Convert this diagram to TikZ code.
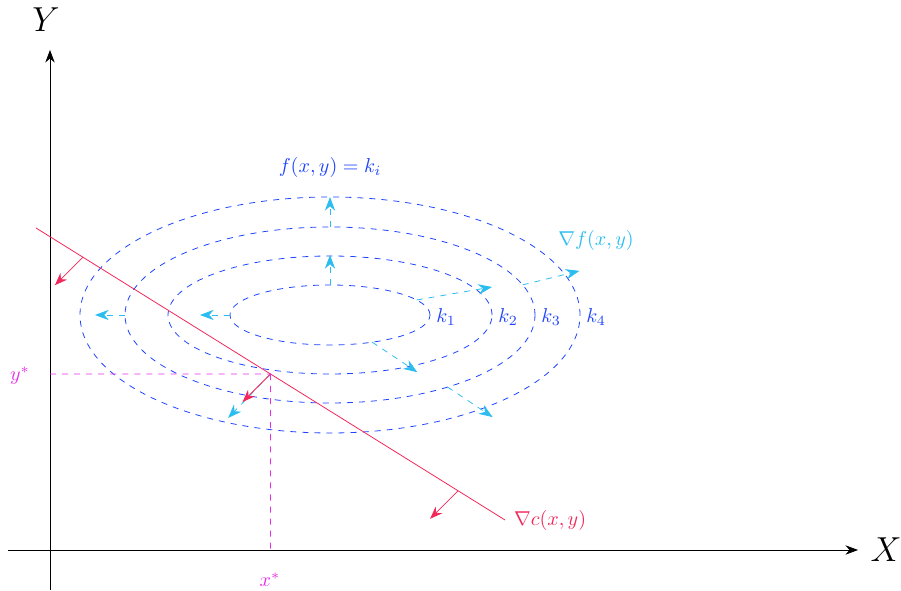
\documentclass[tikz,border=0pt]{standalone}
\usepackage{amsmath,amssymb}
\usepackage{tikz}
\usetikzlibrary{positioning,arrows.meta,calc}
\usepackage{xcolor}
\definecolor{levelc}{HTML}{1E44FF}
\definecolor{gradc}{HTML}{2BBDF0}
\definecolor{consc}{HTML}{F2285A}
\definecolor{optc}{HTML}{E62EE6}

\begin{document}
\begin{tikzpicture}[scale=0.7,
  level/.style={levelc, dashed},
  grad/.style={gradc, dashed, -{Stealth[length=2.4mm]}},
  cons/.style={consc},
  consarr/.style={consc, -{Stealth[length=2.2mm]}},
  opt/.style={optc, dashed},
  klab/.style={levelc, anchor=west, inner sep=2pt},
  >={Stealth[length=2.2mm]}
]
\useasboundingbox (-1.25,-1.025) rectangle (21.275,13.75);
% ---- axes ----
\coordinate (xa) at (-1.05,0);
\coordinate (xb) at (20.2,0);
\coordinate (ya) at (0,-1);
\coordinate (yb) at (0,12.5);
\draw[->] (xa) -- (xb);
\draw[->] (ya) -- (yb);
\node[font=\LARGE] (xl) at (20.9,0) {$X$};
\node[font=\LARGE] (yl) at (-0.1,13.25) {$Y$};
% ---- level sets f(x,y) = k_i ----
\coordinate (O) at (7,5.875);
\foreach \i/\a/\b in {1/2.5/0.75, 2/4.05/1.475, 3/5.125/2.2, 4/6.25/2.95}{
  \draw[level] (O) ellipse [x radius=\a, y radius=\b];
  \node[klab] (k\i) at ($(O)+(\a,0)+(0.05,-0.05)$) {$k_{\i}$};
}
\node[levelc] (fl) at (7,9.575) {$f(x,y)=k_i$};
% ---- gradient of f ----
\draw[grad] ($(O)+(180:2.5 and 0.75)$) -- ++(-0.75,0);
\draw[grad] ($(O)+(180:5.125 and 2.2)$) -- ++(-0.75,0);
\draw[grad] ($(O)+(90:2.5 and 0.75)$) -- ++(0,0.75);
\draw[grad] ($(O)+(90:5.125 and 2.2)$) -- ++(0,0.75);
\draw[grad] ($(O)+(30:2.5 and 0.75)$) -- ++(1.885,0.325);
\draw[grad] ($(O)+(20:5.125 and 2.2)$) -- ++(1.42,0.35);
\draw[grad] ($(O)+(-65:2.5 and 0.75)$) -- ++(1.125,-0.75);
\draw[grad] ($(O)+(-55:5.125 and 2.2)$) -- ++(1.125,-0.75);
\node[gradc] (gl) at (13.65,7.75) {$\nabla f(x,y)$};
% ---- constraint c(x,y) ----
\coordinate (c1) at (-0.35,8.05);
\coordinate (c2) at (11.375,0.75);
\coordinate (T) at ($(c1)!0.5!(c2)$);
\draw[grad] (T) -- ++(-1.06,-1.1);
\draw[cons] (c1) -- (c2);
\foreach \t in {0.1,0.5,0.9}
  \draw[consarr] ($(c1)!\t!(c2)$) -- ++(-0.7,-0.7);
\node[consc, anchor=west] (cl) at ($(c2)+(0.05,0)$) {$\nabla c(x,y)$};
% ---- optimum ----
\coordinate (Ty) at (0,4.4);
\coordinate (Tx) at ($(T|-xa)$);
\draw[opt] (Ty) -- (T);
\draw[opt] (T) -- (Tx);
\node[optc] (ys) at (-0.75,4.35) {$y^*$};
\node[optc] (xs) at (5.5,-0.75) {$x^*$};
\end{tikzpicture}
\end{document}
